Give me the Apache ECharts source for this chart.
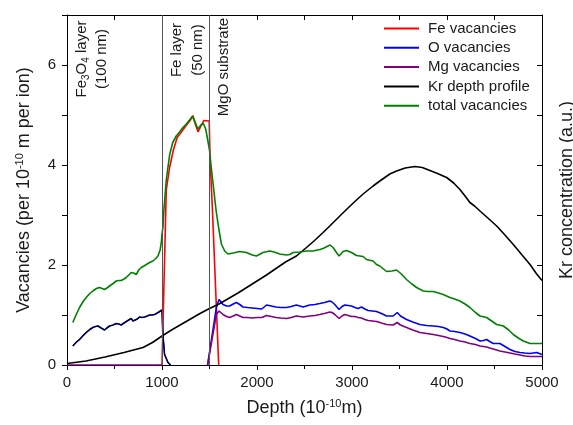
<!DOCTYPE html>
<html><head><meta charset="utf-8">
<script src="https://cdn.jsdelivr.net/npm/echarts@6/dist/echarts.min.js"></script>
<style>html,body{margin:0;padding:0;background:#fff;overflow:hidden;width:573px;height:425px}#c{width:573px;height:425px}</style>
</head><body><div id="c"></div>
<script>
// ---- data ----
const seriesNames = ['Fe vacancies', 'O vacancies', 'Mg vacancies', 'Kr depth profile', 'total vacancies'];
const xTicks = [0, 1000, 2000, 3000, 4000, 5000];
const yTicks = [0, 2, 4, 6];
const layerBounds = [1000, 1500];

const feDepth = [1000, 1045, 1080, 1120, 1160, 1200, 1250, 1300, 1325, 1345, 1380, 1410, 1440, 1497, 1506, 1530, 1597];
const feVac   = [0, 3.5, 3.95, 4.3, 4.55, 4.65, 4.78, 4.9, 4.99, 4.85, 4.66, 4.78, 4.89, 4.88, 4.1, 3.15, 0];

const oDepthA = [61, 100, 132, 170, 202, 240, 272, 300, 325, 360, 395, 420, 448, 485, 518, 545, 571, 600, 624, 650, 676, 695, 711, 740, 764, 790, 817, 845, 869, 895, 922, 950, 975, 1000, 1008, 1027, 1063, 1090];
const oVacA   = [0.38, 0.46, 0.51, 0.59, 0.65, 0.71, 0.75, 0.77, 0.78, 0.74, 0.70, 0.74, 0.78, 0.80, 0.83, 0.82, 0.80, 0.84, 0.87, 0.90, 0.93, 0.88, 0.85, 0.92, 0.96, 0.95, 0.96, 0.98, 1.00, 1.00, 1.01, 1.04, 1.07, 1.10, 0.65, 0.21, 0.05, 0];

const subDepth = [1480, 1572, 1600, 1642, 1680, 1712, 1750, 1783, 1818, 1853,
  1900, 1950, 2000, 2050, 2100, 2150, 2200, 2250, 2310, 2360,
  2415, 2450, 2485, 2520, 2555, 2610, 2661, 2710, 2766, 2790,
  2819, 2864, 2895, 2924, 2960, 2995, 3030, 3064, 3100, 3135,
  3170, 3215, 3258, 3310, 3364, 3433, 3476, 3510, 3574, 3640,
  3715, 3785, 3855, 3910, 3960, 4000, 4031, 4080, 4136, 4190,
  4241, 4300, 4347, 4385, 4417, 4450, 4487, 4557, 4610, 4663,
  4715, 4768, 4820, 4874, 4944, 5000];
const oVacB = [0, 1.15, 1.31, 1.21, 1.18, 1.18, 1.22, 1.25, 1.21, 1.16,
  1.15, 1.14, 1.13, 1.12, 1.20, 1.18, 1.16, 1.15, 1.15, 1.17,
  1.20, 1.18, 1.16, 1.18, 1.20, 1.21, 1.23, 1.25, 1.28, 1.26,
  1.21, 1.11, 1.17, 1.20, 1.19, 1.18, 1.15, 1.13, 1.16, 1.12,
  1.09, 1.08, 1.07, 1.03, 0.98, 0.98, 1.05, 0.98, 0.91, 0.86,
  0.81, 0.79, 0.78, 0.77, 0.75, 0.72, 0.68, 0.67, 0.65, 0.62,
  0.58, 0.53, 0.48, 0.49, 0.51, 0.47, 0.43, 0.43, 0.37, 0.31,
  0.27, 0.25, 0.24, 0.23, 0.25, 0.21];
const mgDepthA = [0, 1000];
const mgVacA = [0, 0];
const mgVacB = [0, 1.01, 1.08, 1.01, 0.97, 0.95, 0.98, 1.01, 0.98, 0.95,
  0.95, 0.94, 0.95, 0.95, 0.99, 0.97, 0.95, 0.94, 0.93, 0.95,
  0.98, 0.97, 0.96, 0.97, 0.98, 0.99, 1.01, 1.03, 1.06, 1.05,
  1.01, 0.93, 0.98, 1.01, 0.99, 0.97, 0.97, 0.95, 0.94, 0.91,
  0.89, 0.88, 0.87, 0.84, 0.81, 0.80, 0.85, 0.80, 0.75, 0.70,
  0.65, 0.63, 0.61, 0.59, 0.57, 0.55, 0.53, 0.51, 0.48, 0.46,
  0.43, 0.41, 0.38, 0.37, 0.36, 0.34, 0.32, 0.28, 0.26, 0.24,
  0.22, 0.20, 0.18, 0.17, 0.17, 0.17];

const krDepth = [0, 200, 400, 600, 800, 900, 1000, 1100, 1200, 1300,
  1400, 1500, 1600, 1700, 1800, 1900, 2000, 2100, 2200, 2300,
  2415, 2521, 2600, 2696, 2766, 2872, 2942, 3030, 3117, 3222,
  3293, 3398, 3469, 3560, 3662, 3740, 3820, 3900, 3996, 4070,
  4136, 4190, 4241, 4290, 4347, 4430, 4523, 4610, 4698, 4790,
  4874, 4940, 5000];
const krConc = [0.03, 0.08, 0.16, 0.25, 0.35, 0.45, 0.58, 0.70, 0.81, 0.92,
  1.03, 1.13, 1.22, 1.33, 1.44, 1.56, 1.68, 1.80, 1.93, 2.06,
  2.18, 2.35, 2.48, 2.65, 2.78, 2.98, 3.11, 3.27, 3.42, 3.58,
  3.68, 3.82, 3.88, 3.94, 3.97, 3.95, 3.89, 3.83, 3.75, 3.64,
  3.51, 3.38, 3.25, 3.18, 3.08, 2.94, 2.78, 2.60, 2.41, 2.20,
  2.01, 1.83, 1.69];

const totDepth = [61, 100, 132, 170, 202, 240, 272, 310, 342, 370,
  395, 420, 448, 485, 518, 545, 571, 600, 624, 650,
  676, 700, 729, 755, 782, 810, 835, 870, 905, 935,
  957, 980, 993, 1000, 1010, 1020, 1045, 1080, 1113, 1150,
  1185, 1220, 1256, 1290, 1319, 1345, 1377, 1410, 1435, 1460,
  1483, 1500, 1519, 1545, 1572, 1600, 1625, 1660, 1694, 1750,
  1818, 1888, 1950, 1994, 2063, 2134, 2180, 2239, 2310, 2345,
  2380, 2450, 2520, 2590, 2661, 2695, 2748, 2770, 2801, 2836,
  2864, 2906, 2942, 2995, 3047, 3117, 3153, 3222, 3258, 3293,
  3364, 3420, 3469, 3520, 3574, 3630, 3680, 3750, 3800, 3855,
  3910, 3960, 4031, 4080, 4136, 4190, 4241, 4300, 4347, 4417,
  4470, 4523, 4593, 4650, 4698, 4750, 4803, 4874, 4940, 5000];
const totVac = [0.85, 1.02, 1.15, 1.27, 1.35, 1.43, 1.48, 1.53, 1.55, 1.53,
  1.51, 1.54, 1.58, 1.63, 1.68, 1.69, 1.69, 1.72, 1.75, 1.80,
  1.85, 1.84, 1.81, 1.90, 1.95, 1.98, 2.01, 2.05, 2.08, 2.13,
  2.18, 2.30, 2.45, 2.62, 2.75, 3.10, 3.70, 4.20, 4.45, 4.58,
  4.66, 4.75, 4.82, 4.90, 4.97, 4.88, 4.72, 4.80, 4.83, 4.72,
  4.48, 4.30, 3.94, 3.50, 3.05, 2.70, 2.42, 2.28, 2.22, 2.24,
  2.27, 2.25, 2.20, 2.18, 2.25, 2.28, 2.26, 2.22, 2.20, 2.21,
  2.25, 2.26, 2.28, 2.28, 2.31, 2.33, 2.38, 2.40, 2.35, 2.25,
  2.18, 2.27, 2.29, 2.25, 2.19, 2.17, 2.11, 2.08, 2.01, 1.98,
  1.87, 1.88, 1.90, 1.82, 1.71, 1.62, 1.55, 1.48, 1.47, 1.47,
  1.44, 1.41, 1.35, 1.32, 1.28, 1.22, 1.15, 1.05, 0.98, 0.95,
  0.88, 0.81, 0.78, 0.70, 0.61, 0.54, 0.48, 0.43, 0.43, 0.43];

// ---- build ----
const zip = (xs, ys) => xs.map((x, i) => [x, ys[i]]);
const oData = zip(oDepthA, oVacA).concat([[1200, '-']], zip(subDepth, oVacB));
const mgData = zip(mgDepthA, mgVacA).concat([[1200, '-']], zip(subDepth, mgVacB));

const FONT = 'Liberation Sans, Arial, Helvetica, sans-serif';
const TXT = '#1a1a1a';
const colors = ['#ff0000', '#0000ff', '#800080', '#000000', '#008000'];

const chart = echarts.init(document.getElementById('c'), null, {renderer: 'canvas', width: 573, height: 425});

function lineSeries(name, data, color, extra) {
  return Object.assign({
    name: name, type: 'line', data: data, color: color,
    showSymbol: false, symbol: 'none', connectNulls: false,
    lineStyle: {color: color, width: 1.6}, animation: false, silent: true
  }, extra || {});
}

const series = [
  lineSeries(seriesNames[0], zip(feDepth, feVac), colors[0]),
  lineSeries(seriesNames[1], oData, colors[1]),
  lineSeries(seriesNames[2], mgData, colors[2]),
  lineSeries(seriesNames[3], zip(krDepth, krConc), colors[3], {
    yAxisIndex: 1,
    markLine: {
      silent: true, symbol: ['none', 'none'], animation: false,
      label: {show: false},
      lineStyle: {color: '#555555', width: 1, type: 'solid'},
      data: layerBounds.map(v => ({xAxis: v}))
    }
  }),
  lineSeries('_overlay', zip(oDepthA, oVacA), '#000000', {lineStyle: {color: '#000', width: 1.1}}),
  lineSeries(seriesNames[4], zip(totDepth, totVac), colors[4])
];

const axisLineStyle = {show: true, onZero: false, lineStyle: {color: '#000', width: 1}};
const plainNum = v => String(v);

chart.setOption({
  animation: false,
  textStyle: {fontFamily: FONT},
  grid: {left: 67, right: 31, top: 15, bottom: 60, containLabel: false, outerBoundsMode: 'none'},
  legend: {
    orient: 'vertical', left: 384, top: 20, padding: 0,
    icon: 'rect', itemWidth: 35, itemHeight: 2, itemGap: 2.3,
    textStyle: {fontSize: 15, color: TXT, fontFamily: FONT, lineHeight: 17, padding: [0, 0, 0, 4]},
    data: seriesNames
  },
  xAxis: [{
    type: 'value', min: xTicks[0], max: xTicks[xTicks.length - 1], interval: 1000,
    position: 'bottom',
    name: 'Depth (10{sup|-10}m)', nameLocation: 'middle', nameGap: 33,
    nameTextStyle: {fontSize: 18, color: TXT, fontFamily: FONT,
      rich: {sup: {fontSize: 11, fontFamily: FONT, color: TXT, padding: [0, 0, 10, 0]}}},
    axisLine: axisLineStyle,
    axisTick: {show: true, inside: false, length: 5, lineStyle: {color: '#000'}},
    minorTick: {show: true, splitNumber: 2, length: 4, lineStyle: {color: '#000'}},
    axisLabel: {fontSize: 15, color: TXT, margin: 10, fontFamily: FONT, formatter: plainNum},
    splitLine: {show: false}
  }, {
    type: 'value', min: xTicks[0], max: xTicks[xTicks.length - 1], interval: 1000,
    position: 'top',
    axisLine: axisLineStyle,
    axisTick: {show: true, inside: true, length: 5, lineStyle: {color: '#000'}},
    minorTick: {show: true, splitNumber: 2, length: 5, lineStyle: {color: '#000'}},
    axisLabel: {show: false}, splitLine: {show: false}
  }],
  yAxis: [{
    type: 'value', min: 0, max: 7, interval: 2, position: 'left',
    name: 'Vacancies (per 10{sup|-10} m per ion)', nameLocation: 'middle', nameGap: 32, nameRotate: 90,
    nameTextStyle: {fontSize: 18, color: TXT, fontFamily: FONT,
      rich: {sup: {fontSize: 11, fontFamily: FONT, color: TXT, padding: [0, 0, 10, 0]}}},
    axisLine: axisLineStyle,
    axisTick: {show: true, inside: false, length: 5, lineStyle: {color: '#000'}},
    minorTick: {show: true, splitNumber: 2, length: 5, lineStyle: {color: '#000'}},
    axisLabel: {fontSize: 15, color: TXT, margin: 11, fontFamily: FONT,
      formatter: v => (yTicks.indexOf(v) >= 0 ? String(v) : '')},
    splitLine: {show: false}
  }, {
    type: 'value', min: 0, max: 7, interval: 2, position: 'right',
    name: 'Kr concentration (a.u.)', nameLocation: 'middle', nameGap: 16, nameRotate: 90,
    nameTextStyle: {fontSize: 18, color: TXT, fontFamily: FONT},
    axisLine: axisLineStyle,
    axisTick: {show: true, inside: true, length: 5, lineStyle: {color: '#000'}},
    minorTick: {show: true, splitNumber: 2, length: 5, lineStyle: {color: '#000'}},
    axisLabel: {show: false}, splitLine: {show: false}
  }],
  graphic: [
    {type: 'text', x: 92, y: 59, rotation: Math.PI / 2, silent: true,
      style: {text: 'Fe{sub|3}O{sub|4} layer\n(100 nm)', font: '15px ' + FONT, fill: TXT,
        align: 'center', verticalAlign: 'middle', textAlign: 'center', textVerticalAlign: 'middle', lineHeight: 20,
        rich: {sub: {fontSize: 10, fontFamily: FONT, fill: TXT, padding: [8, 0, 0, 0]}}}},
    {type: 'text', x: 187, y: 50, rotation: Math.PI / 2, silent: true,
      style: {text: 'Fe layer\n(50 nm)', font: '15px ' + FONT, fill: TXT,
        align: 'center', verticalAlign: 'middle', textAlign: 'center', textVerticalAlign: 'middle', lineHeight: 21}},
    {type: 'text', x: 224, y: 67, rotation: Math.PI / 2, silent: true,
      style: {text: 'MgO substrate', font: '15px ' + FONT, fill: TXT,
        align: 'center', verticalAlign: 'middle', textAlign: 'center', textVerticalAlign: 'middle'}}
  ],
  series: series
});
</script>
</body></html>
